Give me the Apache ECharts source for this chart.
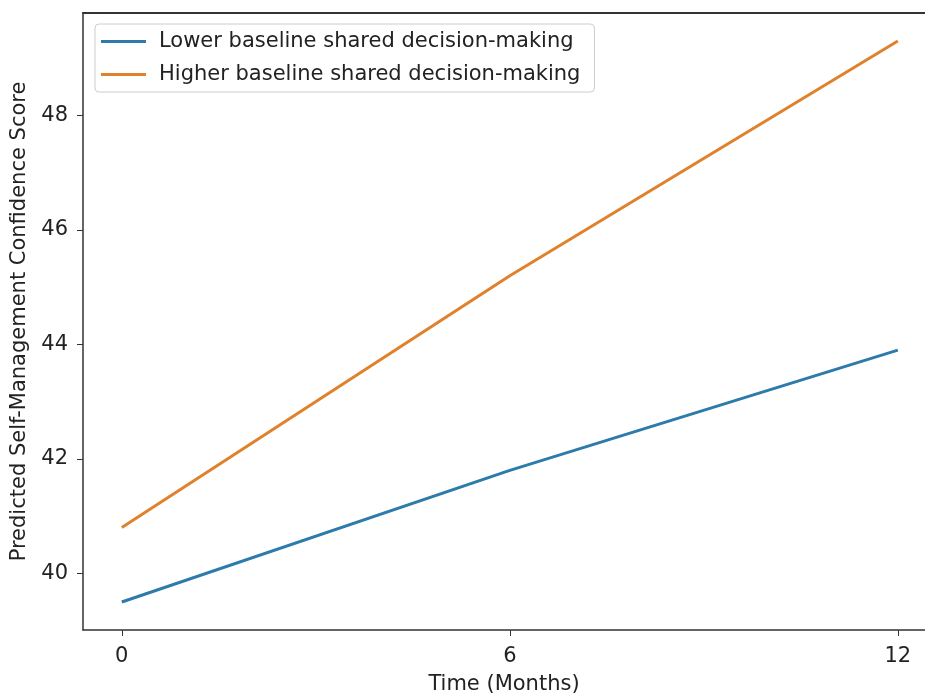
<!DOCTYPE html>
<html>
<head>
<meta charset="utf-8">
<script src="https://cdn.jsdelivr.net/npm/echarts@6/dist/echarts.min.js"></script>
<style>
  html, body { margin: 0; padding: 0; background: #fff; }
  #chart { width: 925px; height: 694px; }
</style>
</head>
<body>
<div id="chart"></div>
<script>
// months on the x axis
const months = [0, 6, 12];
const lowerSdm = [39.5, 41.8, 43.9];
const higherSdm = [40.8, 45.2, 49.3];
const xTicks = [0, 6, 12];
const yTicks = [40, 42, 44, 46, 48];

const FONT = 'DejaVu Sans';
const chart = echarts.init(document.getElementById('chart'));

const option = {
  animation: false,
  textStyle: { fontFamily: FONT },
  grid: {
    left: 83, top: 13, bottom: 64, right: 0,
    outerBoundsMode: 'none',
    containLabel: false
  },
  legend: {
    orient: 'vertical',
    left: 95, top: 24,
    backgroundColor: '#fff',
    borderColor: '#ccc', borderWidth: 1, borderRadius: 4,
    padding: [7, 14, 7, 6],
    itemGap: 12,
    itemWidth: 45, itemHeight: 3,
    icon: 'rect',
    textStyle: { fontSize: 21, color: '#222', fontFamily: FONT, padding: [0, 0, 0, 8] },
    data: ['Lower baseline shared decision-making', 'Higher baseline shared decision-making']
  },
  xAxis: [
    {
      type: 'value',
      min: -0.6, max: 12.42,
      name: 'Time (Months)',
      nameLocation: 'middle',
      nameGap: 44,
      nameTextStyle: { fontSize: 21, color: '#222', fontFamily: FONT },
      axisLine: { onZero: false, lineStyle: { color: '#333', width: 1.5 } },
      axisTick: { customValues: xTicks, length: 6, lineStyle: { color: '#333' } },
      axisLabel: { customValues: xTicks, fontSize: 21, color: '#222', margin: 16, fontFamily: FONT },
      splitLine: { show: false }
    },
    {
      // top frame line only
      type: 'value',
      position: 'top',
      min: -0.6, max: 12.42,
      axisLine: { onZero: false, lineStyle: { color: '#333', width: 2 } },
      axisTick: { show: false },
      axisLabel: { show: false },
      splitLine: { show: false }
    }
  ],
  yAxis: {
    type: 'value',
    min: 39.01, max: 49.79,
    name: 'Predicted Self-Management Confidence Score',
    nameLocation: 'middle',
    nameGap: 52,
    nameTextStyle: { fontSize: 21, color: '#222', fontFamily: FONT },
    axisLine: { onZero: false, lineStyle: { color: '#333', width: 1.5 } },
    axisTick: { customValues: yTicks, length: 6, lineStyle: { color: '#333' } },
    axisLabel: { customValues: yTicks, fontSize: 21, color: '#222', margin: 15, fontFamily: FONT },
    splitLine: { show: false }
  },
  series: [
    {
      name: 'Lower baseline shared decision-making',
      type: 'line',
      data: months.map((m, i) => [m, lowerSdm[i]]),
      showSymbol: false,
      lineStyle: { color: '#2c7bab', width: 3 },
      itemStyle: { color: '#2c7bab' }
    },
    {
      name: 'Higher baseline shared decision-making',
      type: 'line',
      data: months.map((m, i) => [m, higherSdm[i]]),
      showSymbol: false,
      lineStyle: { color: '#e0812c', width: 3 },
      itemStyle: { color: '#e0812c' }
    }
  ]
};

chart.setOption(option);
</script>
</body>
</html>
